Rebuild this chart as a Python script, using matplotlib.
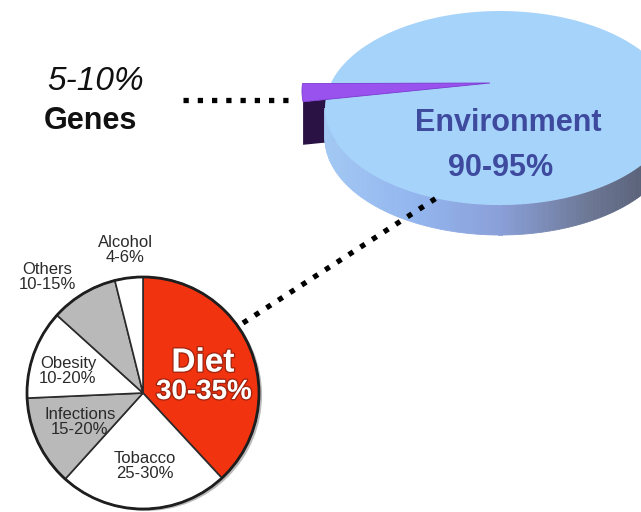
import numpy as np
import matplotlib.pyplot as plt
import matplotlib.patheffects as pe
from matplotlib.patches import Polygon, Circle
from matplotlib.colors import LinearSegmentedColormap

plt.rcParams['font.family'] = ['Liberation Sans', 'DejaVu Sans']

# top pie: genes vs environment (share of the drawn slice)
top_labels = ['Genes', 'Environment']
top_ranges = ['5-10%', '90-95%']
top_share = [3, 97]

# bottom pie: environmental causes, clockwise from 12 o'clock
risk_labels = ['Diet', 'Tobacco', 'Infections', 'Obesity', 'Others', 'Alcohol']
risk_ranges = ['30-35%', '25-30%', '15-20%', '10-20%', '10-15%', '4-6%']
risk_share = [38.1, 23.6, 12.6, 12.4, 9.4, 3.9]
risk_colors = ['#f2330f', 'white', '#b9b9b9', 'white', '#b9b9b9', 'white']

W, H = 641, 512
fig = plt.figure(figsize=(W / 100, H / 100), dpi=100)
ax = fig.add_axes([0, 0, 1, 1])


def py(y):
    # pixel row -> data y
    return H - y


# ---- 3d-ish environment pie ----
cx, cy, a, b, depth = 500, py(108), 175, 97, 30
side_cmap = LinearSegmentedColormap.from_list(
    'side', ['#a2c8f3', '#93b6ef', '#8a9fd8', '#6d7896', '#50566a'])

g_span = top_share[0] / 100 * 2 * np.pi
g_mid = np.deg2rad(181)
g0, g1 = g_mid - g_span / 2, g_mid + g_span / 2
off = np.array([-23, 17])
apex = np.array([490, py(83)])

def rim(t):
    return np.array([cx + a * np.cos(t), cy + b * np.sin(t)])

# dark cut face of the genes slice (drawn first, main pie hides most of it)
r1 = rim(g1) + off
ax.add_patch(Polygon([r1, apex, apex - [0, 43], r1 - [0, 43]],
                     closed=True, fc='#2a1245', ec='none', zorder=1))

# side wall
ts = np.linspace(np.pi, 2 * np.pi, 160)
for t0, t1 in zip(ts[:-1], ts[1:]):
    p0, p1 = rim(t0), rim(t1)
    c = side_cmap((p0[0] - (cx - a)) / (2 * a))
    ax.add_patch(Polygon([p0, p1, p1 - [0, depth], p0 - [0, depth]],
                         closed=True, fc=c, ec=c, lw=0.6, zorder=2))

# top face
tt = np.linspace(0, 2 * np.pi, 300)
ax.add_patch(Polygon(np.column_stack([cx + a * np.cos(tt), cy + b * np.sin(tt)]),
                     closed=True, fc='#a6d3fa', ec='none', zorder=3))

# genes slice top face
tg = np.linspace(g0, g1, 20)
arc = np.column_stack([cx + a * np.cos(tg), cy + b * np.sin(tg)]) + off
ax.add_patch(Polygon(np.vstack([apex, arc]), closed=True,
                     fc='#9a52ee', ec='#7a3ad0', lw=0.6, zorder=4))

ax.text(508, py(123), top_labels[1], ha='center', va='center', fontsize=22,
        fontweight='bold', color='#3e4a9e', zorder=5)
ax.text(501, py(168), top_ranges[1], ha='center', va='center', fontsize=22,
        fontweight='bold', color='#3e4a9e', zorder=5)

ax.text(96, py(82), top_ranges[0], ha='center', va='center', fontsize=24,
        fontstyle='italic', color='#111111')
ax.text(90, py(121), top_labels[0], ha='center', va='center', fontsize=22,
        fontweight='bold', color='#111111')

# dotted leaders
ax.plot([183, 288], [py(100), py(100)], color='black', lw=3.8,
        linestyle=(0, (1, 1.7)), dash_capstyle='butt', zorder=6)
ax.plot([243, 438], [py(323), py(197)], color='black', lw=3.8,
        linestyle=(0, (1, 1.65)), dash_capstyle='butt', zorder=6)

# ---- bottom pie ----
pc, pr = (143, py(393)), 116
ax.add_patch(Circle((pc[0] + 3, pc[1] - 2), pr, fc='#8c8c8c', ec='none',
                    alpha=0.6, zorder=1))
ax.pie(risk_share, colors=risk_colors, startangle=90, counterclock=False,
       center=pc, radius=pr, frame=True,
       wedgeprops=dict(edgecolor='#2b2b2b', linewidth=1.2, zorder=3))
ax.add_patch(Circle(pc, pr, fill=False, ec='#1e1e1e', lw=2, zorder=4))

label_pos = [None, (145, 466), (80, 422), (68, 371), (47, 277), (125, 250)]
for lab, rng, pos in zip(risk_labels[1:], risk_ranges[1:], label_pos[1:]):
    ax.text(pos[0], py(pos[1]), lab + '\n' + rng, ha='center', va='center',
            fontsize=12, color='#2a2a2a', linespacing=0.95, zorder=5)

halo = [pe.withStroke(linewidth=2, foreground=(0.45, 0.1, 0.05, 0.6))]
ax.text(203, py(363), risk_labels[0], ha='center', va='center', fontsize=24,
        fontweight='bold', color='white', path_effects=halo, zorder=5)
ax.text(204, py(392), risk_ranges[0], ha='center', va='center', fontsize=20,
        fontweight='bold', color='white', path_effects=halo, zorder=5)

ax.set_xlim(0, W)
ax.set_ylim(0, H)
ax.set_axis_off()
fig.savefig('out.png', dpi=100)
